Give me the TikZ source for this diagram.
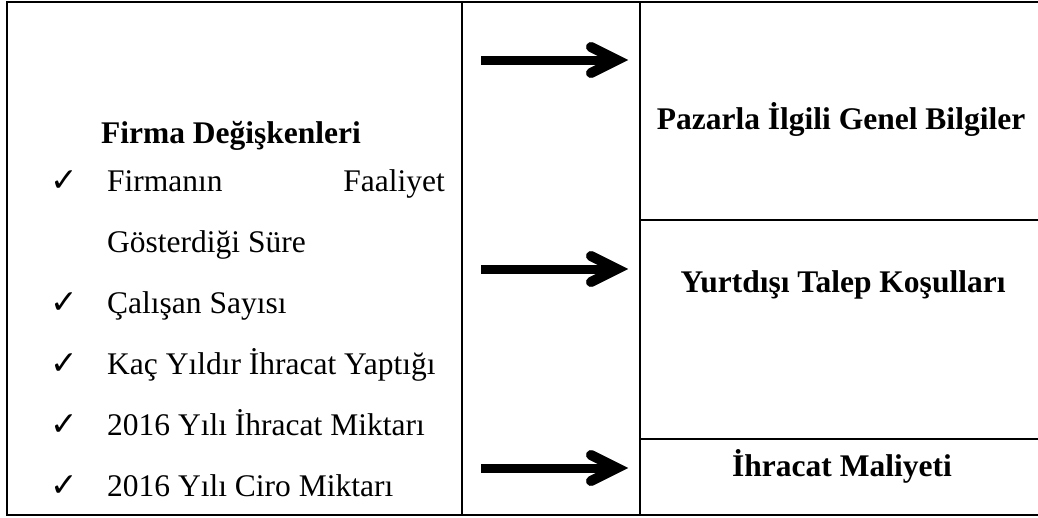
\documentclass[tikz,border=0pt]{standalone}
\usepackage{fontspec}
\setmainfont{Liberation Serif}
\newfontfamily\ticksymbolfont{DejaVu Sans}
\definecolor{arrowshade}{HTML}{9A9A9A}
\begin{document}
\begin{tikzpicture}[x=1pt,y=-1pt,
  rule/.style={line width=2.5pt,line cap=rect},
  body/.style={inner sep=0pt,font=\fontsize{31.5}{38}\selectfont},
  headline/.style={inner sep=0pt,font=\fontsize{31.5}{38}\selectfont\bfseries},
  tickmark/.style={inner sep=0pt,anchor=base west,font=\fontsize{33}{38}\ticksymbolfont},
  shaftline/.style={line width=9pt},
  headline chevron/.style={line width=10pt,line cap=round,line join=miter},
]
\useasboundingbox (0,0) rectangle (1038,517);

% table frame (open on the right)
\draw[rule] (1040,2) -- (7,2) -- (7,515) -- (1040,515);
\draw[rule] (462,2) -- (462,515);
\draw[rule] (640,2) -- (640,515);
\draw[rule] (640,220) -- (1040,220);
\draw[rule] (640,439) -- (1040,439);

% left cell
\node[headline,anchor=base] (fd) at (231,143) {Firma Değişkenleri};

\node[tickmark] (c1) at (50,191) {✓};
\node[body,anchor=base west] (t1a) at (107,191) {Firmanın};
\node[body,anchor=base east] (t1b) at (445,191) {Faaliyet};
\node[body,anchor=base west] (t1c) at (107,252) {Gösterdiği Süre};
\node[tickmark] (c2) at (50,313) {✓};
\node[body,anchor=base west] (t2) at (107,313) {Çalışan Sayısı};
\node[tickmark] (c3) at (50,374) {✓};
\node[body,anchor=base west] (t3) at (107,374) {Kaç Yıldır İhracat Yaptığı};
\node[tickmark] (c4) at (50,435) {✓};
\node[body,anchor=base west] (t4) at (107,435) {2016 Yılı İhracat Miktarı};
\node[tickmark] (c5) at (50,496) {✓};
\node[body,anchor=base west] (t5) at (107,496) {2016 Yılı Ciro Miktarı};

% right cells
\node[headline,anchor=base] (pg) at (841,129) {Pazarla İlgili Genel Bilgiler};
\node[headline,anchor=base] (yt) at (843,292) {Yurtdışı Talep Koşulları};
\node[headline,anchor=base] (im) at (842,476) {İhracat Maliyeti};

% arrow end points in the middle column
\coordinate (s1) at (481,60);  \coordinate (e1) at (617,60);
\coordinate (s2) at (481,269); \coordinate (e2) at (617,269);
\coordinate (s3) at (481,468); \coordinate (e3) at (617,468);

% shadowed block arrows
\foreach \a in {1,2,3}{
  \begin{scope}[shift={(3,4)},arrowshade]
    \draw[shaftline] (s\a) -- (e\a);
    \draw[headline chevron] ([shift={(-26,-13)}]e\a) -- (e\a) -- ([shift={(-26,13)}]e\a);
  \end{scope}
  \draw[shaftline] (s\a) -- (e\a);
  \draw[headline chevron] ([shift={(-26,-13)}]e\a) -- (e\a) -- ([shift={(-26,13)}]e\a);
}
\end{tikzpicture}
\end{document}
